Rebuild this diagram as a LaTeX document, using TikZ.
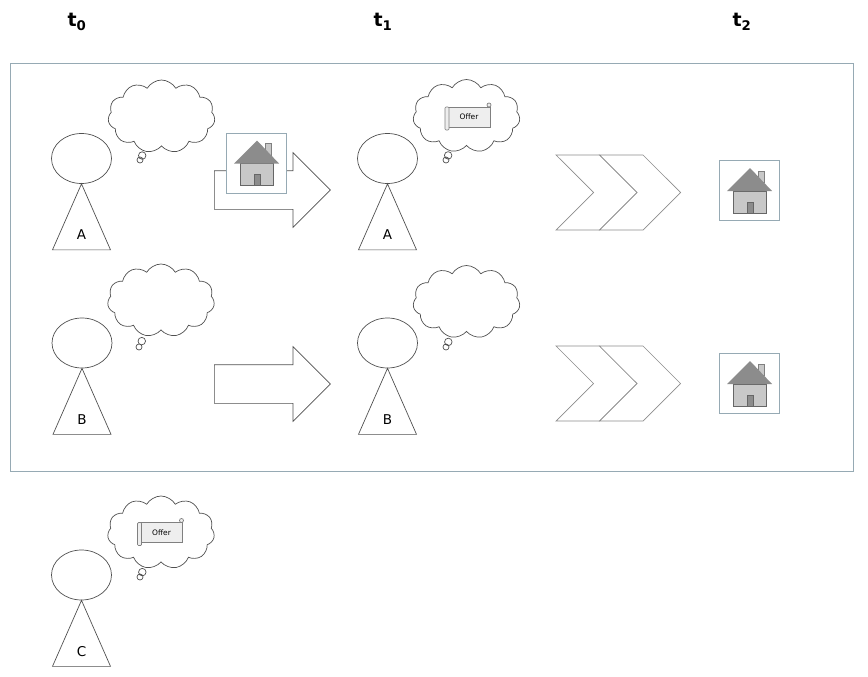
\documentclass[tikz,border=0pt]{standalone}
\usepackage{fontspec}
\setmainfont{DejaVu Sans}
\usetikzlibrary{shapes.geometric,shapes.symbols,shapes.callouts,shapes.arrows}

\definecolor{framecol}{RGB}{150,170,180}
\definecolor{linecol}{RGB}{80,80,80}
\definecolor{chevcol}{RGB}{140,140,140}
\definecolor{roofcol}{RGB}{140,140,140}
\definecolor{wallcol}{RGB}{200,200,200}
\definecolor{scrollcol}{RGB}{238,238,238}

\tikzset{
    head/.style={draw=linecol, ellipse, minimum width=60pt, minimum height=50pt, inner sep=0pt},
    tag/.style={font=\fontsize{13.5}{16}\selectfont, inner sep=0pt},
    tlabel/.style={font=\fontsize{19}{22}\selectfont\bfseries, inner sep=0pt},
    thought/.style={draw=linecol, cloud callout, cloud puffs=11, cloud puff arc=120,
        cloud ignores aspect, minimum width=107pt, minimum height=73pt, inner sep=0pt,
        callout pointer start size=9pt and 9pt, callout pointer end size=6pt and 6pt},
    move/.style={draw=linecol, single arrow, single arrow head extend=18pt,
        minimum height=116pt, minimum width=74pt, inner xsep=0pt, inner ysep=19pt, fill=white},
    chevron/.style={draw=chevcol, signal, signal to=east, signal from=west,
        minimum width=81pt, minimum height=75pt, inner sep=0pt, fill=white},
    housebox/.style={draw=framecol, fill=white, minimum size=60pt, inner sep=0pt},
    scrollbox/.style={draw=gray, fill=scrollcol, minimum width=42pt, minimum height=20pt,
        inner sep=0pt, font=\fontsize{7.5}{9}\selectfont},
    house/.pic={
        \node[housebox] (-box) {};
        \filldraw[fill=wallcol, draw=gray] (8.5,-19.5) rectangle (14.5,-8);
        \filldraw[fill=wallcol, draw=gray!80!black] (-16,0.5) rectangle (17,22.5);
        \fill[roofcol] (0.5,-22.5) -- (-22.5,0.5) -- (22.5,0.5) -- cycle;
        \filldraw[fill=roofcol, draw=gray!80!black] (-2.5,11.5) rectangle (3.5,22.5);
    },
    offer/.pic={
        \node[scrollbox] (-box) {Offer};
        \draw[gray, fill=scrollcol, rounded corners=1pt] (-24,-10) rectangle (-20,13);
        \draw[gray, fill=scrollcol] (20,-12) circle[radius=2pt];
    }
}

\begin{document}
\begin{tikzpicture}[x=1pt,y=-1pt,line width=0.7pt]
    \useasboundingbox (0,0) rectangle (868,677);

    % time labels
    \node[tlabel] (t0) at (77,22) {t\textsubscript{0}};
    \node[tlabel] (t1) at (383,22) {t\textsubscript{1}};
    \node[tlabel] (t2) at (742,22) {t\textsubscript{2}};

    \draw[framecol] (10.5,63.5) rectangle (853,471);

    % persons
    \foreach \n/\x/\y/\l in {pa0/81.5/158.5/A, pa1/387.5/158.5/A, pb0/82/343/B, pb1/387.5/343/B, pc0/81.5/575/C}{
        \node[head] (\n) at (\x,\y) {};
        \draw[linecol] (\n.south) -- ++(-29,66) -- ++(58,0) -- cycle;
        \path (\n.south) ++(0,51) node[tag] (\n-tag) {\l};
    }

    % thoughts
    \node[thought, callout absolute pointer={(140,160)}] (ca0) at (161.5,116.5) {};
    \node[thought, callout absolute pointer={(446,160)}] (ca1) at (466.5,116) {};
    \node[thought, callout absolute pointer={(139,347)}] (cb0) at (161,300.5) {};
    \node[thought, callout absolute pointer={(446,347)}] (cb1) at (466.5,302) {};
    \node[thought, callout absolute pointer={(140,577)}] (cc0) at (161,532.5) {};
    \pic (oa1) at (469,117) {offer};
    \pic (oc0) at (161.5,532.5) {offer};

    % moves
    \node[move, anchor=tail] (ma) at (214,190) {};
    \node[move, anchor=tail] (mb) at (214,384) {};
    \pic (hm) at (256.5,163) {house};

    \node[chevron] (cha1) at (596.5,192.5) {};
    \node[chevron] (cha2) at (640,192.5) {};
    \node[chevron] (chb1) at (596.5,383.5) {};
    \node[chevron] (chb2) at (640,383.5) {};

    \pic (ha) at (749.5,190.5) {house};
    \pic (hb) at (749.5,383.5) {house};
\end{tikzpicture}
\end{document}
